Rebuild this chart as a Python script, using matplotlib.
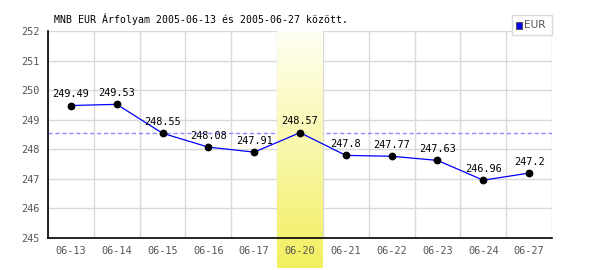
import matplotlib

matplotlib.use("Agg")
import matplotlib.pyplot as plt
import numpy as np
from matplotlib.colors import LinearSegmentedColormap
from matplotlib.patches import Rectangle

TITLE = "MNB EUR Árfolyam 2005-06-13 és 2005-06-27 között."
DATES = ["06-13", "06-14", "06-15", "06-16", "06-17", "06-20",
         "06-21", "06-22", "06-23", "06-24", "06-27"]
RATES = [249.49, 249.53, 248.55, 248.08, 247.91, 248.57,
         247.8, 247.77, 247.63, 246.96, 247.2]
HIGHLIGHT = "06-20"
YTICKS = [245, 246, 247, 248, 249, 250, 251, 252]

MONO = "DejaVu Sans Mono"
GRID = "#d9d9d9"
TICK = "#555555"

fig = plt.figure(figsize=(6.0, 2.7), dpi=100)
ax = fig.add_axes([0.08, 0.1185, 0.84, 0.765])

n = len(DATES)
xs = np.arange(n)
ymin, ymax = YTICKS[0], YTICKS[-1]

# grid: horizontal at each integer, vertical at category borders
for y in YTICKS:
    ax.axhline(y, color=GRID, lw=1.0, zorder=1)
for b in np.arange(n + 1) - 0.5:
    ax.axvline(b, color=GRID, lw=1.0, zorder=1)

# highlighted day: vertical gradient band, runs down past the x axis
hi = DATES.index(HIGHLIGHT)
cmap = LinearSegmentedColormap.from_list("band", ["#fffff4", "#f2ef5e"])
grad = np.linspace(0, 1, 256).reshape(-1, 1)
px_per_unit = (238 - 31.5) / (ymax - ymin)
band_bottom = ymin - (268 - 238) / px_per_unit
ax.imshow(grad, cmap=cmap, aspect="auto", origin="upper",
          extent=(hi - 0.5, hi + 0.5, band_bottom, ymax),
          zorder=3, clip_on=False)

# reference line at the highlighted day's value
ax.axhline(RATES[hi], color="#8c8cff", lw=1.0, ls=(0, (3, 2)), zorder=2)

ax.plot(xs, RATES, color="#0000ff", lw=0.9, zorder=4)
ax.plot(xs, RATES, "o", color="black", ms=4.6, zorder=5)
for x, v in zip(xs, RATES):
    ax.annotate(f"{v:g}", (x, v), xytext=(0, 4.5), textcoords="offset points",
                ha="center", va="bottom", fontsize=7.4, family=MONO,
                color="black", zorder=6)

ax.set_xlim(-0.5, n - 0.5)
ax.set_ylim(ymin, ymax)
ax.set_xticks(xs)
ax.set_xticklabels(DATES)
ax.set_yticks(YTICKS)
ax.tick_params(length=0, labelsize=7.4, colors=TICK, pad=6)
for lab in ax.get_xticklabels() + ax.get_yticklabels():
    lab.set_family(MONO)
ax.xaxis.set_zorder(8)
ax.yaxis.set_zorder(8)
for side in ("top", "right"):
    ax.spines[side].set_visible(False)
for side in ("left", "bottom"):
    ax.spines[side].set_color("black")
    ax.spines[side].set_linewidth(1.2)
    ax.spines[side].set_zorder(7)

fig.text(54 / 600, 1 - 19 / 270, TITLE, family=MONO, fontsize=7.1,
         ha="left", va="center", color="black")

# legend box in the upper right
fig.patches.append(Rectangle((511.5 / 600, 1 - 35 / 270), 40.5 / 600, 20 / 270,
                             transform=fig.transFigure, facecolor="white",
                             edgecolor=GRID, lw=1.0))
fig.patches.append(Rectangle((516 / 600, 1 - 28.5 / 270), 6 / 600, 6 / 270,
                             transform=fig.transFigure, facecolor="#0000ff",
                             edgecolor="#555555", lw=0.8))
fig.text(524 / 600, 1 - 25.5 / 270, "EUR", fontsize=7.6, color=TICK,
         ha="left", va="center")

fig.savefig("out.png", dpi=100)
